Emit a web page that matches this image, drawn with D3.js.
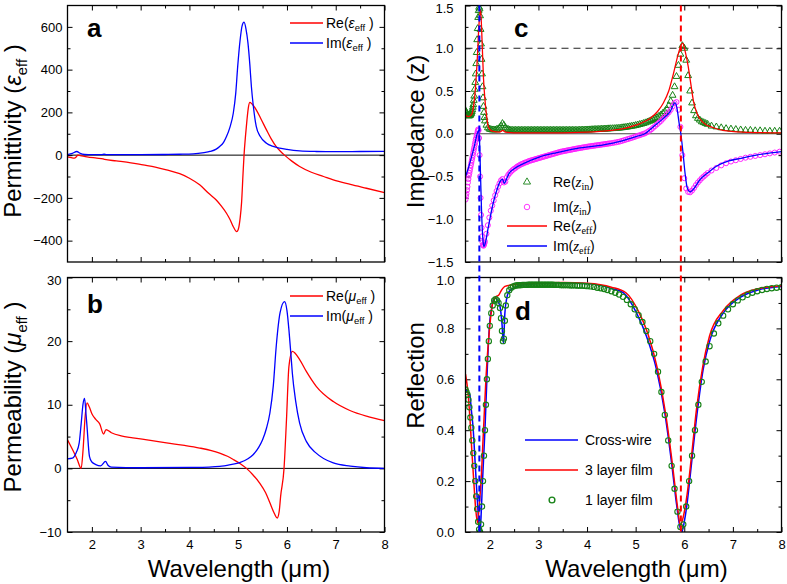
<!DOCTYPE html>
<html><head><meta charset="utf-8">
<script src="https://cdn.jsdelivr.net/npm/d3@7"></script>
<style>body{margin:0;background:#fff}svg text{font-family:"Liberation Sans",Arial,sans-serif}</style>
</head><body><svg id="fig" width="787" height="584"></svg>
<script>
// ---------- DATA ----------
const xMajor = [2,3,4,5,6,7,8];
const xMinor = [2.5,3.5,4.5,5.5,6.5,7.5];
const epsTicks = [-400,-200,0,200,400,600];
const epsMinor = [-300,-100,100,300,500];
const muTicks = [-10,0,10,20,30];
const muMinor = [-5,5,15,25];
const zTicks = [-1.5,-1.0,-0.5,0,0.5,1.0,1.5];
const zMinor = [-1.25,-0.75,-0.25,0.25,0.75,1.25];
const rTicks = [0,0.2,0.4,0.6,0.8,1.0];
const rMinor = [0.1,0.3,0.5,0.7,0.9];

// panel a: [wavelength, value]
const epsRe = [[1.5,-8],[1.58,-12],[1.64,-14],[1.68,-8],[1.71,0],[1.76,-2],[1.9,-8],[2.1,-14],[2.23,-18],[2.26,-20],[2.5,-27],[2.8,-36],[3.05,-46],[3.3,-56],[3.53,-69],[3.8,-87],[4.0,-108],[4.21,-139],[4.4,-180],[4.55,-210],[4.66,-240],[4.76,-272],[4.84,-305],[4.9,-335],[4.97,-358],[5.01,-340],[5.04,-295],[5.07,-220],[5.1,-84],[5.12,0],[5.15,90],[5.18,165],[5.21,225],[5.24,247],[5.28,240],[5.37,212],[5.47,168],[5.58,118],[5.68,75],[5.78,40],[5.87,17],[5.95,0],[6.1,-28],[6.26,-53],[6.5,-80],[6.75,-100],[6.95,-116],[7.3,-137],[7.63,-155],[8,-175]];
const epsIm = [[1.5,2],[1.6,8],[1.69,17],[1.76,8],[1.85,3],[2.0,2],[2.2,2],[2.25,4],[2.3,2],[2.6,2],[3.0,2],[3.5,3],[3.8,4],[4.08,6],[4.3,12],[4.42,17],[4.55,28],[4.62,40],[4.7,60],[4.76,87],[4.83,130],[4.9,197],[4.95,290],[4.99,415],[5.04,540],[5.08,605],[5.12,622],[5.16,590],[5.2,525],[5.24,420],[5.27,322],[5.31,230],[5.37,134],[5.45,88],[5.58,56],[5.7,42],[5.85,33],[6.0,27],[6.26,20],[6.6,17],[7.0,16],[7.5,17],[8,18]];

// panel b
const muRe = [[1.5,4.5],[1.6,3],[1.7,1.4],[1.78,0],[1.82,3],[1.86,8],[1.9,10.3],[1.95,9.6],[2.0,8.6],[2.08,7.7],[2.16,7.0],[2.24,5.4],[2.29,6.1],[2.4,5.6],[2.6,5.1],[2.84,4.8],[3.2,4.4],[3.53,4.0],[3.9,3.6],[4.21,3.2],[4.45,2.8],[4.62,2.4],[4.78,1.9],[4.9,1.4],[5.05,0.7],[5.17,0],[5.3,-1.0],[5.44,-2.3],[5.56,-3.8],[5.65,-5.4],[5.73,-6.9],[5.8,-7.8],[5.84,-6.8],[5.87,-4.4],[5.94,0],[5.99,7.6],[6.04,16],[6.11,18.4],[6.26,17.1],[6.4,15.2],[6.6,12.9],[6.95,10.5],[7.29,9.1],[7.63,8.2],[8,7.5]];
const muIm = [[1.5,1.5],[1.6,1.6],[1.68,2.5],[1.74,4],[1.78,7],[1.82,10.2],[1.85,11.0],[1.88,8.5],[1.9,6.6],[1.95,1.9],[2.0,1.0],[2.08,0.6],[2.18,0.4],[2.28,1.1],[2.33,0.5],[2.4,0.2],[3,0.1],[4,0.15],[4.4,0.2],[4.62,0.3],[4.85,0.6],[5.03,0.9],[5.2,1.5],[5.3,2.1],[5.42,3.3],[5.5,4.5],[5.58,6.3],[5.65,8.7],[5.72,13],[5.78,19.2],[5.86,24.5],[5.95,26.2],[6.0,24.8],[6.04,21.8],[6.08,18],[6.11,15],[6.18,10.5],[6.26,7.1],[6.4,4.2],[6.6,2.4],[6.95,0.85],[7.3,0.35],[7.63,0.1],[8,0]];

// panel c: effective impedance lines
const zEffRe = [[1.5,0.22],[1.56,0.2],[1.62,0.22],[1.66,0.3],[1.7,0.5],[1.74,0.85],[1.78,1.3],[1.81,1.45],[1.84,1.1],[1.87,0.65],[1.9,0.4],[1.94,0.18],[1.97,0.08],[2.05,0.03],[2.2,0.02],[2.27,0.04],[2.32,0.02],[2.6,0.01],[3,0.01],[4,0.02],[4.5,0.04],[4.75,0.06],[5.0,0.1],[5.3,0.18],[5.45,0.26],[5.57,0.36],[5.68,0.5],[5.78,0.71],[5.87,0.92],[5.93,1.03],[5.97,1.06],[6.02,0.96],[6.08,0.79],[6.13,0.6],[6.19,0.38],[6.26,0.24],[6.39,0.13],[6.6,0.07],[6.8,0.04],[7.2,0.02],[8,0.01]];
const zEffIm = [[1.5,-0.5],[1.56,-0.4],[1.62,-0.28],[1.68,-0.15],[1.74,0.0],[1.77,0.04],[1.79,-0.1],[1.81,-0.5],[1.83,-0.9],[1.86,-1.25],[1.88,-1.32],[1.91,-1.27],[1.97,-1.09],[2.07,-0.81],[2.15,-0.65],[2.21,-0.56],[2.26,-0.53],[2.3,-0.58],[2.35,-0.52],[2.4,-0.46],[2.5,-0.41],[2.69,-0.35],[3.03,-0.27],[3.38,-0.22],[3.8,-0.17],[4.34,-0.13],[4.68,-0.09],[5.02,-0.03],[5.19,0],[5.36,0.08],[5.57,0.18],[5.71,0.26],[5.81,0.36],[5.85,0.3],[5.89,0.14],[5.93,0.0],[5.97,-0.2],[6.02,-0.48],[6.06,-0.63],[6.12,-0.68],[6.2,-0.64],[6.32,-0.54],[6.5,-0.45],[6.66,-0.38],[6.9,-0.32],[7.14,-0.29],[7.48,-0.25],[8,-0.21]];
// panel c: input impedance markers [wavelength, Re(z_in), Im(z_in)]
const zIn = [
[1.50,.27,-.77],[1.51,.255,-.73],[1.52,.24,-.70],[1.53,.23,-.66],[1.54,.22,-.62],[1.55,.215,-.57],[1.56,.21,-.53],[1.57,.21,-.49],[1.58,.21,-.46],[1.59,.215,-.43],
[1.60,.22,-.40],[1.61,.23,-.37],[1.62,.24,-.34],[1.63,.26,-.31],[1.64,.28,-.28],[1.65,.31,-.25],[1.66,.34,-.22],[1.67,.39,-.19],[1.68,.44,-.16],[1.69,.52,-.13],
[1.70,.60,-.10],[1.71,.70,-.07],[1.72,.82,-.05],[1.73,.95,-.02],[1.74,1.10,0],[1.75,1.23,.03],[1.76,1.36,.05],[1.77,1.44,.04],[1.78,1.48,-.05],[1.79,1.46,-.25],
[1.80,1.38,-.5],[1.81,1.22,-.75],[1.82,1.05,-.95],[1.83,.87,-1.1],[1.84,.70,-1.2],[1.85,.55,-1.27],[1.86,.42,-1.3],[1.87,.32,-1.31],[1.88,.25,-1.3],[1.89,.19,-1.28],[1.90,.15,-1.26],
[1.93,.10,-1.17],[1.96,.07,-1.07],[1.99,.055,-.98],[2.02,.05,-.90],[2.05,.045,-.84],[2.08,.045,-.78],[2.11,.045,-.72],[2.14,.05,-.67],[2.17,.055,-.62],[2.20,.07,-.58],
[2.23,.09,-.545],[2.26,.12,-.53],[2.29,.10,-.57],[2.32,.07,-.56],[2.35,.055,-.51],[2.38,.05,-.48],[2.41,.045,-.46],[2.44,.04,-.44],[2.47,.04,-.425],[2.50,.04,-.41],
[2.53,.04,-.40],[2.56,.04,-.385],[2.59,.04,-.375],[2.62,.04,-.365],[2.65,.04,-.355],[2.68,.04,-.35],[2.71,.04,-.34],[2.74,.04,-.335],[2.77,.04,-.33],[2.80,.04,-.32],
[2.83,.04,-.315],[2.86,.04,-.31],[2.89,.04,-.305],[2.92,.04,-.30],[2.95,.04,-.295],[2.98,.04,-.29],[3.01,.04,-.285],[3.04,.04,-.28],[3.07,.04,-.275],[3.10,.04,-.27],
[3.13,.04,-.265],[3.16,.04,-.26],[3.19,.04,-.255],[3.22,.04,-.25],[3.25,.04,-.245],[3.28,.04,-.24],[3.31,.04,-.235],[3.34,.04,-.23],[3.37,.04,-.225],[3.40,.04,-.22],
[3.43,.04,-.215],[3.46,.04,-.21],[3.49,.04,-.207],[3.52,.04,-.203],[3.55,.04,-.20],[3.58,.04,-.197],[3.61,.04,-.193],[3.64,.04,-.19],[3.67,.04,-.187],[3.70,.04,-.183],
[3.73,.04,-.18],[3.76,.04,-.177],[3.79,.04,-.173],[3.82,.04,-.17],[3.85,.042,-.167],[3.88,.042,-.164],[3.91,.043,-.161],[3.94,.043,-.158],[3.97,.044,-.155],[4.00,.045,-.152],
[4.03,.045,-.149],[4.06,.046,-.147],[4.09,.047,-.144],[4.12,.048,-.142],[4.15,.049,-.139],[4.18,.05,-.137],[4.21,.05,-.134],[4.24,.051,-.132],[4.27,.052,-.129],[4.30,.053,-.127],
[4.33,.054,-.124],[4.36,.055,-.122],[4.39,.056,-.119],[4.42,.057,-.117],[4.45,.058,-.114],[4.48,.059,-.112],
[4.52,.06,-.108],[4.56,.061,-.104],[4.60,.063,-.10],[4.64,.065,-.095],[4.68,.067,-.09],[4.72,.07,-.083],[4.76,.073,-.076],[4.80,.076,-.069],[4.84,.08,-.062],[4.88,.084,-.055],
[4.92,.088,-.048],[4.96,.092,-.04],[5.00,.097,-.033],[5.04,.102,-.025],[5.08,.108,-.017],[5.12,.114,-.009],[5.16,.12,-.002],[5.20,.128,.007],[5.24,.136,.02],[5.28,.145,.035],
[5.32,.155,.05],[5.36,.166,.07],[5.40,.178,.09],[5.44,.19,.11],[5.48,.205,.13],[5.52,.22,.15],[5.56,.24,.175],[5.60,.26,.20],[5.64,.29,.225],[5.68,.33,.25],
[5.72,.38,.28],[5.76,.45,.32],[5.80,.55,.36],[5.84,.67,.37],[5.88,.80,.28],[5.92,.93,.08],[5.96,1.03,-.25],[6.00,1.0,-.52],[6.04,.86,-.64],[6.08,.68,-.68],
[6.12,.50,-.685],[6.16,.36,-.665],[6.20,.27,-.635],[6.24,.21,-.60],[6.28,.18,-.57],[6.32,.16,-.545],[6.36,.14,-.52],[6.40,.13,-.50],[6.44,.12,-.48],[6.48,.11,-.46],
[6.56,.09,-.43],[6.66,.08,-.40],[6.76,.07,-.37],[6.86,.06,-.345],[6.96,.055,-.325],[7.06,.05,-.31],[7.16,.045,-.295],[7.26,.04,-.28],[7.36,.04,-.27],[7.46,.035,-.26],
[7.56,.035,-.25],[7.66,.03,-.24],[7.76,.03,-.23],[7.86,.03,-.22],[7.96,.03,-.21]];

// panel d
const crossWire = [[1.5,0.557],[1.55,0.55],[1.59,0.538],[1.62,0.48],[1.66,0.4],[1.69,0.3],[1.72,0.2],[1.76,0.073],[1.78,0.02],[1.8,0.0],[1.82,0.06],[1.85,0.2],[1.9,0.4],[1.95,0.65],[2.0,0.83],[2.04,0.88],[2.07,0.91],[2.12,0.92],[2.17,0.905],[2.21,0.886],[2.25,0.82],[2.28,0.742],[2.31,0.86],[2.35,0.92],[2.38,0.94],[2.5,0.96],[2.69,0.971],[3.0,0.976],[3.38,0.978],[4.06,0.975],[4.5,0.957],[4.75,0.94],[5.02,0.86],[5.22,0.77],[5.43,0.637],[5.6,0.467],[5.74,0.27],[5.84,0.11],[5.9,0.03],[5.95,0.0],[6.0,0.04],[6.05,0.1],[6.15,0.27],[6.26,0.46],[6.39,0.64],[6.53,0.755],[6.8,0.86],[7.15,0.922],[7.5,0.95],[8,0.965]];
const film3 = [[1.5,0.62],[1.55,0.55],[1.6,0.42],[1.63,0.32],[1.67,0.2],[1.71,0.09],[1.75,0.034],[1.78,0.1],[1.82,0.2],[1.87,0.4],[1.92,0.6],[1.99,0.79],[2.06,0.9],[2.13,0.925],[2.18,0.93],[2.24,0.95],[2.31,0.965],[2.5,0.972],[3,0.978],[3.5,0.98],[4,0.977],[4.5,0.962],[4.8,0.94],[5.05,0.87],[5.25,0.78],[5.45,0.64],[5.62,0.46],[5.76,0.26],[5.86,0.1],[5.92,0.026],[5.98,0.06],[6.06,0.15],[6.15,0.3],[6.25,0.48],[6.38,0.65],[6.52,0.77],[6.8,0.87],[7.15,0.93],[7.5,0.955],[8,0.968]];
const film1 = [[1.50,.56],[1.52,.55],[1.54,.54],[1.56,.52],[1.58,.49],[1.60,.45],[1.62,.41],[1.64,.36],[1.66,.31],[1.68,.26],[1.70,.20],[1.72,.14],[1.74,.09],[1.76,.04],[1.78,.01],[1.80,0],[1.82,.03],[1.84,.1],[1.86,.2],[1.88,.3],[1.90,.4],[1.92,.5],[1.94,.6],[1.96,.68],[1.98,.75],[2.00,.81],[2.03,.86],[2.06,.89],[2.09,.91],[2.12,.915],[2.15,.91],[2.18,.90],[2.21,.88],[2.23,.84],[2.25,.79],[2.27,.75],[2.29,.76],[2.31,.83],[2.33,.89],[2.36,.93],[2.40,.95],[2.44,.96],[2.48,.965],
[2.52,.968],[2.55,.969],[2.58,.97],[2.61,.97],[2.64,.97],[2.67,.971],[2.70,.971],[2.73,.971],[2.76,.971],[2.79,.972],[2.82,.972],[2.85,.972],[2.88,.972],[2.91,.972],[2.94,.972],[2.97,.972],[3.00,.972],[3.03,.972],[3.06,.972],[3.09,.972],[3.12,.972],[3.15,.972],[3.18,.972],[3.21,.972],[3.24,.972],[3.27,.972],[3.30,.972],[3.33,.971],[3.36,.971],[3.39,.971],[3.42,.971],[3.46,.97],[3.50,.97],[3.54,.97],[3.58,.97],[3.62,.97],[3.66,.969],[3.70,.969],[3.75,.969],[3.80,.968],[3.85,.968],[3.90,.968],[3.95,.967],[4.0,.966],
[4.07,.965],[4.14,.963],[4.21,.96],[4.28,.958],[4.35,.955],[4.42,.951],[4.5,.946],[4.58,.94],[4.66,.933],[4.74,.924],[4.82,.912],[4.9,.895],[4.98,.875],[5.06,.852],[5.14,.825],[5.22,.79],[5.3,.75],[5.38,.70],[5.46,.63],[5.53,.55],[5.6,.46],[5.67,.36],[5.74,.26],[5.8,.17],[5.86,.08],[5.92,.02],[5.98,.03],[6.04,.1],[6.1,.2],[6.16,.3],[6.22,.4],[6.29,.5],[6.36,.59],[6.44,.67],[6.52,.73],[6.61,.78],[6.7,.82],[6.8,.85],[6.9,.875],[7.0,.895],[7.1,.91],[7.2,.922],[7.3,.932],[7.4,.94],[7.5,.946],[7.6,.951],[7.7,.955],[7.8,.958],[7.9,.96],[8.0,.962]];

const resonanceWl = [1.785, 5.93];
const unityZ = 1.0;

// ---------- DRAW ----------
const svg = d3.select("#fig");
const RED = "#ff0000", BLUE = "#0000ff", GREEN = "#168216", MAG = "#ff22ff";

function panel(o) {
  const x = d3.scaleLinear().domain([1.5, 8]).range([o.x0, o.x1]);
  const y = d3.scaleLinear().domain(o.yDom).range([o.y1, o.y0]);
  const g = svg.append("g");
  const ax = (gen, tr) => {
    const a = g.append("g").attr("transform", tr).call(gen);
    a.select(".domain").remove();
    a.selectAll("line").attr("stroke", "#000").attr("stroke-width", 1);
    a.selectAll("text").attr("font-size", 13).attr("fill", "#000").attr("font-family", '"Liberation Sans",Arial,sans-serif');
    return a;
  };
  ax(d3.axisBottom(x).tickValues(xMajor).tickSize(-5).tickPadding(8).tickFormat(o.showX ? d3.format("d") : ""), `translate(0,${o.y1})`);
  ax(d3.axisBottom(x).tickValues(xMinor).tickSize(-3).tickFormat(""), `translate(0,${o.y1})`);
  ax(d3.axisTop(x).tickValues(xMajor).tickSize(-5).tickFormat(""), `translate(0,${o.y0})`);
  ax(d3.axisTop(x).tickValues(xMinor).tickSize(-3).tickFormat(""), `translate(0,${o.y0})`);
  const left = ax(d3.axisLeft(y).tickValues(o.yTicks).tickSize(-5).tickPadding(o.pad).tickFormat(o.fmt), `translate(${o.x0},0)`);
  left.selectAll(".tick").filter(d => d === o.yDom[1]).select("text").attr("dy", "0.5em");
  ax(d3.axisLeft(y).tickValues(o.yMinor).tickSize(-3).tickFormat(""), `translate(${o.x0},0)`);
  ax(d3.axisRight(y).tickValues(o.yTicks).tickSize(-5).tickFormat(""), `translate(${o.x1},0)`);
  ax(d3.axisRight(y).tickValues(o.yMinor).tickSize(-3).tickFormat(""), `translate(${o.x1},0)`);
  const clipId = "clip" + Math.round(o.x0) + "_" + Math.round(o.y0);
  svg.append("clipPath").attr("id", clipId).append("rect")
    .attr("x", o.x0).attr("y", o.y0).attr("width", o.x1 - o.x0).attr("height", o.y1 - o.y0);
  const plot = g.append("g").attr("clip-path", `url(#${clipId})`);
  g.append("rect").attr("x", o.x0).attr("y", o.y0).attr("width", o.x1 - o.x0).attr("height", o.y1 - o.y0)
    .attr("fill", "none").attr("stroke", "#000").attr("stroke-width", 1.3);
  return {x, y, g, plot};
}

const fmtInt = d3.format("d");
const fmt1 = d => d3.format(".1f")(d);

const pa = panel({x0:67.5, x1:384.5, y0:5.5, y1:262, yDom:[-500,700], yTicks:epsTicks, yMinor:epsMinor, fmt:fmtInt, pad:5, showX:false});
const pb = panel({x0:67.5, x1:384.5, y0:277.5, y1:532, yDom:[-10,30], yTicks:muTicks, yMinor:muMinor, fmt:fmtInt, pad:6, showX:true});
const pc = panel({x0:465.5, x1:781.5, y0:5.5, y1:262, yDom:[-1.5,1.5], yTicks:zTicks, yMinor:zMinor, fmt:fmt1, pad:12, showX:false});
const pd = panel({x0:465.5, x1:781.5, y0:277.5, y1:532, yDom:[0,1], yTicks:rTicks, yMinor:rMinor, fmt:fmt1, pad:11, showX:true});

function line(p, data, color, w) {
  const gen = d3.line().x(d => p.x(d[0])).y(d => p.y(d[1])).curve(d3.curveMonotoneX);
  p.plot.append("path").datum(data).attr("d", gen).attr("fill", "none").attr("stroke", color).attr("stroke-width", w || 1.3);
}
function hline(p, v, color, dash, w) {
  p.plot.append("line").attr("x1", p.x(1.5)).attr("x2", p.x(8)).attr("y1", p.y(v)).attr("y2", p.y(v))
    .attr("stroke", color).attr("stroke-width", w || 1).attr("stroke-dasharray", dash || null);
}
function markers(p, data, col, type, color, size, sw) {
  const sym = d3.symbol().type(type).size(size);
  p.plot.append("g").selectAll("path").data(data).join("path")
    .attr("d", sym).attr("transform", d => `translate(${p.x(d[0])},${p.y(d[col])})`)
    .attr("fill", "none").attr("stroke", color).attr("stroke-width", sw || 0.8);
}

// panel a
hline(pa, 0, "#000", null, 1);
line(pa, epsRe, RED); line(pa, epsIm, BLUE);
// panel b
hline(pb, 0, "#000", null, 1);
line(pb, muRe, RED); line(pb, muIm, BLUE);
// panel c
hline(pc, 0, "#444", null, 1);
hline(pc, unityZ, "#222", "7,5", 1.2);
markers(pc, zIn, 1, d3.symbolTriangle, GREEN, 20, 1);
markers(pc, zIn, 2, d3.symbolCircle, MAG, 20, 1);
line(pc, zEffRe, RED, 1.3); line(pc, zEffIm, BLUE, 1.3);
// panel d
line(pd, crossWire, BLUE, 1.5); line(pd, film3, RED, 1.5);
markers(pd, film1, 1, d3.symbolCircle, GREEN, 22, 1.1);

// resonance dashed lines through c and d
svg.append("g").selectAll("line").data(resonanceWl).join("line")
  .attr("x1", d => pc.x(d)).attr("x2", d => pc.x(d)).attr("y1", 5.5).attr("y2", 532)
  .attr("stroke", (d, i) => i === 0 ? BLUE : RED).attr("stroke-width", 2).attr("stroke-dasharray", "6,4");

// panel letters
const letters = [["a", 87, 37], ["b", 87, 313], ["c", 514, 37], ["d", 515, 320]];
svg.append("g").selectAll("text").data(letters).join("text")
  .attr("x", d => d[1]).attr("y", d => d[2]).text(d => d[0])
  .attr("font-size", 26).attr("font-weight", "bold");

// axis titles
function ytitle(cx, cy, size, parts) {
  const t = svg.append("text").attr("transform", `translate(${cx},${cy}) rotate(-90)`)
    .attr("text-anchor", "middle").attr("font-size", size);
  parts.forEach(p => {
    const s = t.append("tspan").text(p.t);
    if (p.sub) s.attr("font-size", size * 0.62).attr("dy", size * 0.25);
    if (p.up) s.attr("dy", -size * 0.25);
    if (p.style) s.attr("font-style", p.style);
  });
}
ytitle(21, 131, 24, [{t:"Permittivity ("}, {t:"ε", style:"italic"}, {t:"eff", sub:true}, {t:" )", up:true}]);
ytitle(21, 397, 24, [{t:"Permeability ("}, {t:"μ", style:"italic"}, {t:"eff", sub:true}, {t:" )", up:true}]);
ytitle(424, 131.5, 24, [{t:"Impedance (z)"}]);
ytitle(424, 375.5, 24, [{t:"Reflection"}]);

svg.selectAll(".xt").data([pb, pd]).join("text").attr("class", "xt")
  .attr("x", d => (d.x(1.5) + d.x(8)) / 2 + 13).attr("y", 577)
  .attr("text-anchor", "middle").attr("font-size", 24).attr("font-family", "Lato, 'Open Sans', sans-serif")
  .text("Wavelength (μm)");

// legends a & b
function legAB(y0, sym) {
  const items = [["Re", RED], ["Im", BLUE]];
  items.forEach((it, i) => {
    const yy = y0 + i * 20;
    svg.append("line").attr("x1", 290).attr("x2", 323).attr("y1", yy).attr("y2", yy).attr("stroke", it[1]).attr("stroke-width", 1.3);
    const t = svg.append("text").attr("x", 326).attr("y", yy + 5).attr("font-size", 14);
    t.append("tspan").text(it[0] + "(");
    t.append("tspan").text(sym).attr("font-style", "italic");
    t.append("tspan").text("eff").attr("font-size", 9.5).attr("dy", 3);
    t.append("tspan").text(" )").attr("dy", -3);
  });
}
legAB(23, "ε");
legAB(296, "μ");

// legend c
const legC = [
  {k:"tri", lab:"Re(", sub:"in", y:182},
  {k:"circ", lab:"Im(", sub:"in", y:207},
  {k:"red", lab:"Re(", sub:"eff", y:226},
  {k:"blue", lab:"Im(", sub:"eff", y:246}
];
legC.forEach(d => {
  if (d.k === "tri") svg.append("path").attr("d", d3.symbol().type(d3.symbolTriangle).size(22)()).attr("transform", `translate(527,${d.y})`).attr("fill", "none").attr("stroke", GREEN).attr("stroke-width", 0.9);
  else if (d.k === "circ") svg.append("path").attr("d", d3.symbol().type(d3.symbolCircle).size(24)()).attr("transform", `translate(527,${d.y})`).attr("fill", "none").attr("stroke", MAG).attr("stroke-width", 0.9);
  else svg.append("line").attr("x1", 507).attr("x2", 547).attr("y1", d.y).attr("y2", d.y).attr("stroke", d.k === "red" ? RED : BLUE).attr("stroke-width", 1.3);
  const t = svg.append("text").attr("x", 553).attr("y", d.y + 5).attr("font-size", 14);
  t.append("tspan").text(d.lab);
  t.append("tspan").text("z").attr("font-family", "'Liberation Serif','DejaVu Serif',serif").attr("font-style", "italic").attr("font-size", 15);
  t.append("tspan").text(d.sub).attr("font-family", "'Liberation Serif','DejaVu Serif',serif").attr("font-size", 10).attr("dy", 3);
  t.append("tspan").text(")").attr("dy", -3);
});

// legend d
const legD = [
  {k:"blue", lab:"Cross-wire", y:440},
  {k:"red", lab:"3 layer film", y:470},
  {k:"circ", lab:"1 layer film", y:500}
];
legD.forEach(d => {
  if (d.k === "circ") svg.append("path").attr("d", d3.symbol().type(d3.symbolCircle).size(26)()).attr("transform", `translate(552,${d.y})`).attr("fill", "none").attr("stroke", GREEN).attr("stroke-width", 1.4);
  else svg.append("line").attr("x1", 525).attr("x2", 578).attr("y1", d.y).attr("y2", d.y).attr("stroke", d.k === "red" ? RED : BLUE).attr("stroke-width", 1.6);
  svg.append("text").attr("x", 585).attr("y", d.y + 5).attr("font-size", 14).text(d.lab);
});
</script></body></html>
